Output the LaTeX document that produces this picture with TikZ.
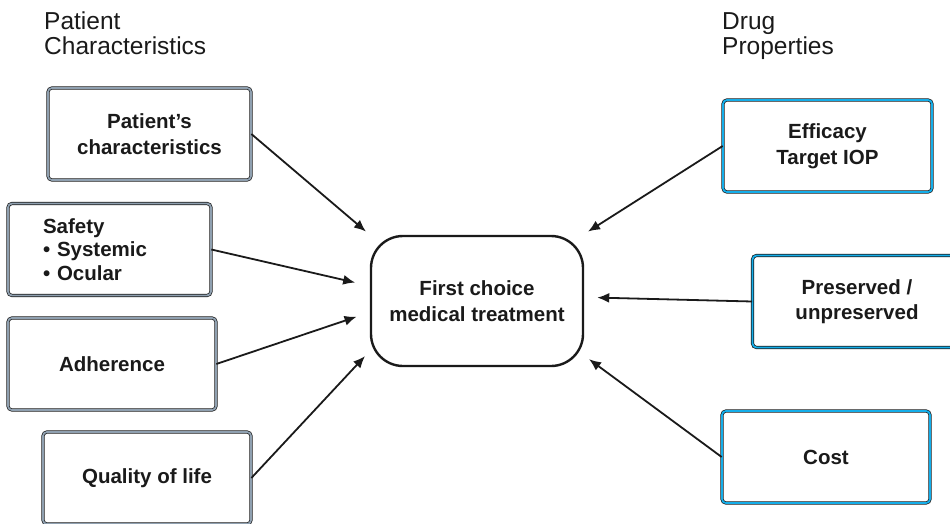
\documentclass[tikz,border=0pt]{standalone}
\usepackage{fontspec}
\setmainfont{Liberation Sans}
\usetikzlibrary{arrows.meta,positioning,calc}
\definecolor{ink}{HTML}{1A1A1A}
\definecolor{steel}{HTML}{8FA0B0}
\definecolor{sky}{HTML}{14AEEA}
\tikzset{
  pcbox/.style={rectangle,rounded corners=4pt,draw=ink,double=steel,
    double distance=1.8pt,line width=0.7pt,fill=white,text=ink,
    minimum width=203pt,minimum height=92pt,inner sep=2pt,align=center,
    font=\fontsize{20.5}{25.5}\selectfont\bfseries},
  dpbox/.style={pcbox,double=sky,minimum width=209pt},
  choicebox/.style={rectangle,rounded corners=32pt,draw=ink,fill=white,
    text=ink,line width=2.4pt,minimum width=212pt,minimum height=130pt,
    align=center,font=\fontsize{20.5}{26}\selectfont\bfseries},
  factor/.style={-{Latex[length=12pt,width=10pt]},line width=1.8pt,draw=ink},
  heading/.style={anchor=north west,align=left,inner sep=0pt,text=ink,
    font=\fontsize{24.5}{25}\selectfont},
}

\begin{document}
\begin{tikzpicture}[x=1pt,y=-1pt]
  \useasboundingbox (0,0) rectangle (950,524);
  % headings
  \node[heading] (hp) at (44,12) {Patient\\Characteristics};
  \node[heading] (hd) at (722,12) {Drug\\Properties};
  % centre
  \node[choicebox] (fc) at (477,301) {First choice\\medical treatment};
  % patient side
  \node[pcbox] (pc) at (149.5,134) {Patient’s\\characteristics};
  \node[pcbox,text width=133pt,align=left,
    font=\fontsize{20.5}{23.5}\selectfont\bfseries] (sf) at (109.5,249.5)
    {Safety\\\textbullet\ Systemic\\\textbullet\ Ocular};
  \node[pcbox,minimum width=208pt] (ad) at (112,364) {Adherence};
  \node[pcbox,minimum width=208pt] (ql) at (147,478) {Quality of life};
  % drug side
  \node[dpbox] (ef) at (827.5,146) {Efficacy\\Target IOP};
  \node[dpbox] (pr) at (857,301.5) {Preserved /\\unpreserved};
  \node[dpbox,minimum width=208pt] (co) at (826,457) {Cost};
  % arrows
  \draw[factor,shorten >=5pt] (pc.east) -- (fc.north west);
  \draw[factor,shorten >=15pt] (sf.east) -- (fc.172.5);
  \draw[factor,shorten >=14pt] (ad.east) -- (fc.186.2);
  \draw[factor,shorten >=7pt] (ql.east) -- (fc.205.8);
  \draw[factor,shorten >=6pt] (ef.west) -- (fc.32.6);
  \draw[factor,shorten >=13pt] (pr.west) -- (fc.2.9);
  \draw[factor,shorten >=6pt] (co.west) -- (fc.333.5);
\end{tikzpicture}
\end{document}
